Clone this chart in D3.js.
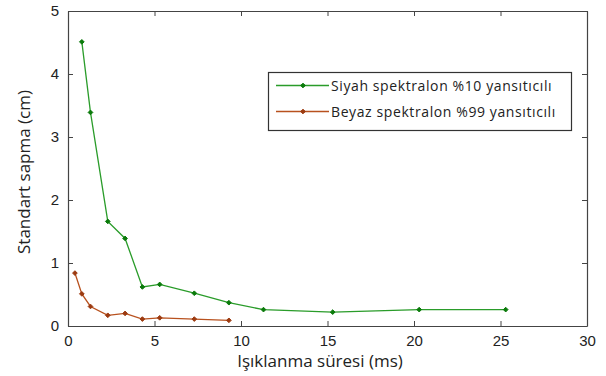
<!DOCTYPE html>
<html>
<head>
<meta charset="utf-8">
<script src="https://cdn.jsdelivr.net/npm/d3@7"></script>
<style>
  html, body { margin: 0; padding: 0; background: #fff; }
  svg { display: block; }
</style>
</head>
<body>
<svg id="chart" width="606" height="376"></svg>
<script>
// Exposure time (ms) and standard deviation (cm) for the two targets
const blackX = [0.8, 1.3, 2.3, 3.3, 4.3, 5.3, 7.3, 9.3, 11.3, 15.3, 20.3, 25.3];
const blackY = [4.51, 3.39, 1.66, 1.39, 0.62, 0.66, 0.52, 0.37, 0.26, 0.22, 0.26, 0.26];
const whiteX = [0.4, 0.8, 1.3, 2.3, 3.3, 4.3, 5.3, 7.3, 9.3];
const whiteY = [0.84, 0.51, 0.31, 0.17, 0.20, 0.11, 0.13, 0.11, 0.09];
const seriesNames = ["Siyah spektralon %10 yansıtıcılı", "Beyaz spektralon %99 yansıtıcılı"];
const xTicks = [0, 5, 10, 15, 20, 25, 30];
const yTicks = [0, 1, 2, 3, 4, 5];
const xTitle = "Işıklanma süresi (ms)";
const yTitle = "Standart sapma (cm)";

const svg = d3.select("#chart");
const plotLeft = 68, plotRight = 587, plotTop = 11, plotBottom = 326;

const x = d3.scaleLinear().domain([0, 30]).range([plotLeft, plotRight]);
const y = d3.scaleLinear().domain([0, 5]).range([plotBottom, plotTop]);

const axisColor = "#444";
const tickFont = "'Liberation Sans', Arial, sans-serif";
const labelFont = "'Open Sans', 'DejaVu Sans', sans-serif";
const fmt = d3.format("d");

// Frame with inward ticks on all four sides
function styleAxis(g, showLabels) {
  g.selectAll("path.domain").attr("stroke", axisColor).attr("stroke-width", 1.2);
  g.selectAll(".tick line").attr("stroke", axisColor);
  g.selectAll(".tick text")
    .attr("fill", "#222")
    .style("font-family", tickFont)
    .style("font-size", "15px")
    .style("display", showLabels ? null : "none");
}

svg.append("g").attr("transform", `translate(0,${plotBottom})`)
  .call(d3.axisBottom(x).tickValues(xTicks).tickFormat(fmt).tickSizeInner(-5).tickSizeOuter(0).tickPadding(9))
  .call(g => styleAxis(g, true));
svg.append("g").attr("transform", `translate(0,${plotTop})`)
  .call(d3.axisTop(x).tickValues(xTicks).tickSizeInner(-5).tickSizeOuter(0))
  .call(g => styleAxis(g, false));
svg.append("g").attr("transform", `translate(${plotLeft},0)`)
  .call(d3.axisLeft(y).tickValues(yTicks).tickFormat(fmt).tickSizeInner(-5).tickSizeOuter(0).tickPadding(9))
  .call(g => styleAxis(g, true));
svg.append("g").attr("transform", `translate(${plotRight},0)`)
  .call(d3.axisRight(y).tickValues(yTicks).tickSizeInner(-5).tickSizeOuter(0))
  .call(g => styleAxis(g, false));

// Series
const series = [
  { name: seriesNames[0], xs: blackX, ys: blackY, line: "#2a9c2a", mark: "#0a7a0a" },
  { name: seriesNames[1], xs: whiteX, ys: whiteY, line: "#b8511e", mark: "#9c3a10" }
];

const line = d3.line().x(d => x(d[0])).y(d => y(d[1]));
const marker = d3.symbol().type(d3.symbolDiamond2).size(14);

series.forEach(s => {
  const pts = s.xs.map((v, i) => [v, s.ys[i]]);
  svg.append("path").datum(pts)
    .attr("d", line).attr("fill", "none")
    .attr("stroke", s.line).attr("stroke-width", 1.3);
  svg.append("g").selectAll("path").data(pts).join("path")
    .attr("d", marker)
    .attr("transform", d => `translate(${x(d[0])},${y(d[1])})`)
    .attr("fill", s.mark).attr("stroke", s.mark).attr("stroke-width", 1);
});

// Legend
const lg = svg.append("g");
lg.append("rect").attr("x", 268.5).attr("y", 72.5).attr("width", 303).attr("height", 58)
  .attr("fill", "#fff").attr("stroke", "#333").attr("stroke-width", 1.2);
series.forEach((s, i) => {
  const yy = 85.5 + i * 26;
  lg.append("line").attr("x1", 276).attr("x2", 329).attr("y1", yy).attr("y2", yy)
    .attr("stroke", s.line).attr("stroke-width", 1.3);
  lg.append("path").attr("d", marker).attr("transform", `translate(303,${yy})`)
    .attr("fill", s.mark).attr("stroke", s.mark).attr("stroke-width", 1);
  lg.append("text").attr("x", 331).attr("y", yy + 5)
    .attr("fill", "#222")
    .style("font-family", labelFont).style("font-size", "14px")
    .style("letter-spacing", "0.6px")
    .text(s.name);
});

// Axis titles
svg.append("text").attr("x", 320).attr("y", 367).attr("text-anchor", "middle")
  .attr("fill", "#222").style("font-family", labelFont).style("font-size", "17px")
  .text(xTitle);
svg.append("text").attr("transform", "translate(30,172) rotate(-90)").attr("text-anchor", "middle")
  .attr("fill", "#222").style("font-family", labelFont).style("font-size", "17px")
  .text(yTitle);
</script>
</body>
</html>
